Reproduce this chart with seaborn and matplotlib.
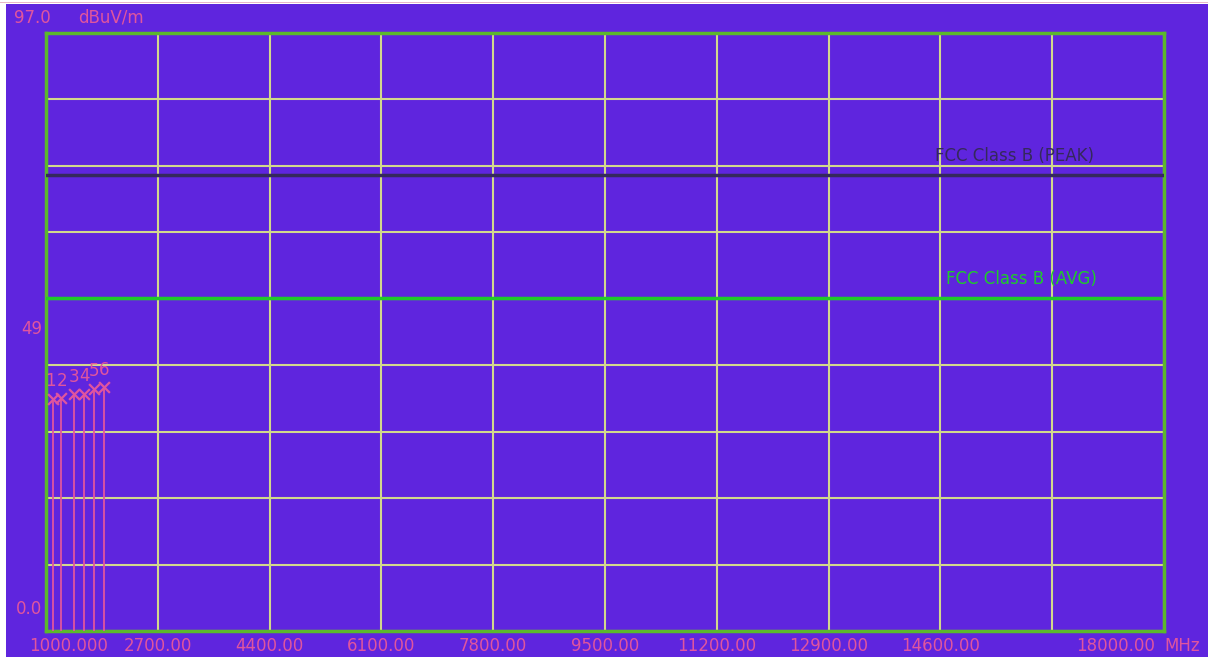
import numpy as np
import pandas as pd
import matplotlib
matplotlib.use("Agg")
import matplotlib.pyplot as plt
import seaborn as sns
from matplotlib.patches import Rectangle

# Marker data (MHz, dBuV/m)
freq_mhz = [1111, 1228, 1430, 1582, 1730, 1882]
level_db = [37.7, 37.8, 38.4, 38.5, 39.3, 39.6]
marker_ids = ["1", "2", "3", "4", "5", "6"]
id_shift = [-2, 1, 0, 0, 0, 0]  # small px nudges so neighbouring digits don't collide

# Limit lines
limit_names = ["FCC Class B (PEAK)", "FCC Class B (AVG)"]
limit_values = [74, 54]
limit_label_x = [14520, 14690]

# Axis ticks
x_ticks = [1000, 2700, 4400, 6100, 7800, 9500, 11200, 12900, 14600, 16300, 18000]
x_labels = ["1000.000", "2700.00", "4400.00", "6100.00", "7800.00", "9500.00",
            "11200.00", "12900.00", "14600.00", "", "18000.00"]
y_top = 97.0
y_mid = 49

bg = "#5F25DE"
pink = "#E0559E"
grid_col = "#D2D88C"
frame_col = "#5CB82C"
peak_col = "#35295C"
avg_col = "#1FCB2A"
fs = 12

sns.set_style("white")
plt.rcParams["font.family"] = ["DejaVu Sans"]

fig = plt.figure(figsize=(12.08, 6.57), dpi=100)
fig.patch.set_facecolor("white")
fig.patches.append(Rectangle((6 / 1208, 0), 1, 1 - 4 / 657,
                             transform=fig.transFigure, facecolor=bg,
                             edgecolor="none", zorder=-5))
fig.patches.append(Rectangle((0, 1 - 3 / 657), 1, 1.5 / 657,
                             transform=fig.transFigure, facecolor="#E8B8C8",
                             edgecolor="none", zorder=-5))

ax = fig.add_axes([46 / 1208, 26 / 657, 1118 / 1208, 598 / 657])
ax.set_facecolor(bg)
ax.set_xlim(1000, 18000)
ax.set_ylim(0, y_top)

# grid
ax.set_xticks(x_ticks)
ax.set_yticks(np.linspace(0, y_top, 10))
ax.grid(True, color=grid_col, linewidth=1.5)
ax.tick_params(length=0, labelbottom=False, labelleft=False)
for s in ax.spines.values():
    s.set_color(frame_col)
    s.set_linewidth(2.5)

# limit lines
lim_df = pd.DataFrame({"x": [1000, 18000, 1000, 18000],
                       "y": [limit_values[0]] * 2 + [limit_values[1]] * 2,
                       "name": [limit_names[0]] * 2 + [limit_names[1]] * 2})
sns.lineplot(data=lim_df, x="x", y="y", hue="name",
             palette=[peak_col, avg_col], linewidth=2.5, legend=False, ax=ax,
             zorder=3)
for name, val, lx, c in zip(limit_names, limit_values, limit_label_x, [peak_col, avg_col]):
    ax.annotate(name, (lx, val), xytext=(0, 7), textcoords="offset points",
                color=c, fontsize=fs, va="bottom", ha="left")

# markers with stems
ax.vlines(freq_mhz, 0, level_db, color=pink, linewidth=1.3, zorder=4)
mk_df = pd.DataFrame({"f": freq_mhz, "lv": level_db})
sns.scatterplot(data=mk_df, x="f", y="lv", marker="x", s=60, color=pink,
                linewidth=1.6, ax=ax, zorder=5)
for f, lv, m, dx in zip(freq_mhz, level_db, marker_ids, id_shift):
    ax.annotate(m, (f, lv), xytext=(dx, 6), textcoords="offset points",
                color=pink, fontsize=12, ha="center", va="bottom")

ax.set_xlabel("")
ax.set_ylabel("")

# tick labels
for xt, lab in zip(x_ticks, x_labels):
    if lab == "":
        continue
    if xt == 1000:
        ax.text(xt + 350, -1.0, lab, color=pink, fontsize=fs, ha="center", va="top")
    elif xt == 18000:
        ax.text(xt - 140, -1.0, lab, color=pink, fontsize=fs, ha="right", va="top")
        ax.text(xt, -1.0, "MHz", color=pink, fontsize=fs, ha="left", va="top")
    else:
        ax.text(xt, -1.0, lab, color=pink, fontsize=fs, ha="center", va="top")

ax.annotate("0.0", (0, 0), xytext=(-3, 9), textcoords="offset points",
            xycoords=ax.get_yaxis_transform(), color=pink, fontsize=fs,
            ha="right", va="bottom")
ax.annotate(str(y_mid), (0, y_mid), xytext=(-3, 0), textcoords="offset points",
            xycoords=ax.get_yaxis_transform(), color=pink, fontsize=fs,
            ha="right", va="center")
fig.text(14 / 1208, 1 - 9 / 657, "97.0", color=pink, fontsize=fs, va="top")
fig.text(78 / 1208, 1 - 9 / 657, "dBuV/m", color=pink, fontsize=fs, va="top")

fig.savefig("out.png", dpi=100, facecolor=fig.get_facecolor())
